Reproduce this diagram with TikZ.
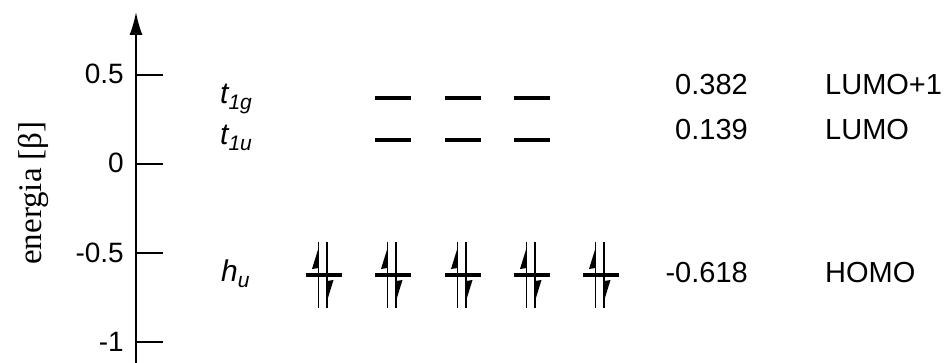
\documentclass[tikz,border=0pt]{standalone}
\usepackage{fontspec}
\setmainfont{Liberation Sans}
\newfontfamily\serifface{Liberation Serif}
\usetikzlibrary{arrows.meta}
\newcommand{\sublbl}[2]{{\itshape #1\raisebox{-6pt}{\fontsize{21}{21}\selectfont #2}}}
\begin{document}
\begin{tikzpicture}[x=1pt,y=-1pt,
  axisline/.style={line width=1.7pt},
  levelbar/.style={line width=3.8pt},
  spinline/.style={line width=1.8pt},
  ticklabel/.style={anchor=base east, font=\fontsize{28}{28}\selectfont, inner sep=0pt},
  vallabel/.style={anchor=base east, font=\fontsize{29}{29}\selectfont, inner sep=0pt},
  namelabel/.style={anchor=base west, font=\fontsize{29}{29}\selectfont, inner sep=0pt},
  symlabel/.style={anchor=base west, font=\fontsize{30}{30}\selectfont, inner sep=0pt}]
\useasboundingbox (0,0) rectangle (944,363);
% axis
\coordinate (axbot) at (136,363);
\coordinate (axtop) at (136,12);
\draw[axisline,-{Latex[length=23pt,width=13pt]}] (axbot) -- (axtop);
\foreach \y/\l/\n in {75/0.5/ta,164/0/tb,253/-0.5/tc,342/-1/td}{
  \coordinate (\n) at (136,\y);
  \coordinate (\n e) at (163,\y);
  \draw[axisline] (\n) -- (\n e);
  \node[ticklabel] (\n l) at (124,\y+9) {\l};
}
\node[rotate=90, font=\serifface\fontsize{33}{33}\selectfont, inner sep=0pt] (ylab) at (33,193) {energia [β]};
% empty levels
\foreach \c in {393,463,532}{
  \draw[levelbar] (\c-18,98) -- (\c+18,98);
  \draw[levelbar] (\c-18,140) -- (\c+18,140);
}
% occupied levels
\foreach \c in {324,393,463,532,601}{
  \draw[levelbar] (\c-18,275) -- (\c+18,275);
  \draw[spinline] (\c-5.5,242) -- (\c-5.5,308);
  \draw[spinline] (\c+3,242) -- (\c+3,308);
  \fill (\c-5.5,248) -- (\c-12,269) -- (\c-5.5,268) -- cycle;
  \fill (\c+3,301) -- (\c+9.5,280) -- (\c+3,281) -- cycle;
}
% labels
\node[symlabel] (t1g) at (220,104) {\sublbl{t}{1g}};
\node[symlabel] (t1u) at (220,145) {\sublbl{t}{1u}};
\node[symlabel] (hu) at (221,281) {\sublbl{h}{u}};
\node[vallabel] (v1) at (748,95) {0.382};
\node[vallabel] (v2) at (748,140) {0.139};
\node[vallabel] (v3) at (748,282) {-0.618};
\node[namelabel] (n1) at (825,95) {LUMO+1};
\node[namelabel] (n2) at (825,140) {LUMO};
\node[namelabel] (n3) at (825,282) {HOMO};
\end{tikzpicture}
\end{document}
